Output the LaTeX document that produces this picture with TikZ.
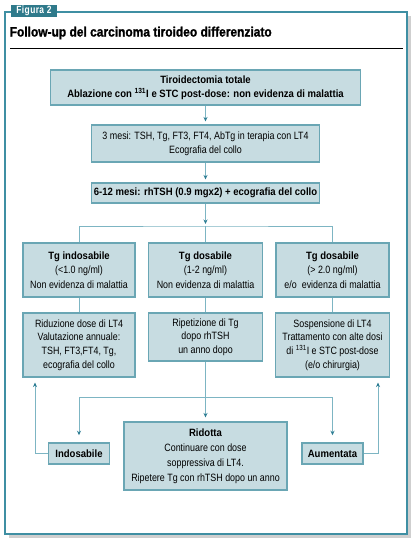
\documentclass[tikz,border=0pt]{standalone}
\usepackage{fontspec}
\setmainfont{Liberation Sans}
\newfontfamily\regf{Liberation Sans}[FakeStretch=0.84]
\newfontfamily\boldf{Liberation Sans}[FakeStretch=0.9]
\newfontfamily\titlef{Liberation Sans}[FakeStretch=0.88, BoldFeatures={FakeBold=1.3}]
\newfontfamily\labf{Liberation Sans}[FakeStretch=0.8, LetterSpace=4]
\usetikzlibrary{arrows.meta}
\definecolor{boxfill}{HTML}{C7DCE1}
\definecolor{boxline}{HTML}{6AA6B4}
\definecolor{conn}{HTML}{7DB5C3}
\definecolor{tipc}{HTML}{2E7E94}
\definecolor{framec}{HTML}{3F8FA3}
\definecolor{labelc}{HTML}{2F7A8B}
\definecolor{shadowc}{HTML}{CFCFCF}
\newcommand{\hb}[1]{{\boldf\bfseries #1}}
\begin{document}
\begin{tikzpicture}[x=1pt,y=-1pt,
  box/.style={draw=boxline, fill=boxfill, line width=1.1pt, align=center, inner sep=1pt,
    font=\regf\fontsize{10.6}{13.6}\selectfont},
  conline/.style={draw=conn, line width=1pt},
  arr/.style={conline, -{Stealth[length=4.5pt, width=4pt, color=tipc]}, shorten >=3pt}]
\useasboundingbox (0,0) rectangle (415,543);
% frame with shadow
\fill[shadowc] (9,16) rectangle (411,538);
\fill[white] (5,12) rectangle (407,534);
\draw[framec, line width=1.8pt] (5,12) rectangle (407,534);
\node[fill=labelc, text=white, minimum width=46, minimum height=12, inner sep=0pt,
  font=\labf\bfseries\fontsize{10.5}{10}\selectfont] (lab) at (34,11) {Figura 2};
\node[anchor=west, inner sep=0pt, font=\titlef\bfseries\fontsize{13.6}{13}\selectfont] (title) at (9.5,33) {Follow-up del carcinoma tiroideo differenziato};
\draw[black, line width=0.9pt] (10,48) -- (403,48);
% nodes
\node[box, minimum width=310, minimum height=35] (b1) at (205.5,87.5)
  {\hb{Tiroidectomia totale}\\\hb{Ablazione con \textsuperscript{131}I e STC post-dose: non evidenza di malattia}};
\node[box, minimum width=228, minimum height=37] (b2) at (205.5,143.5)
  {3 mesi: TSH, Tg, FT3, FT4, AbTg in terapia con LT4\\Ecografia del collo};
\node[box, minimum width=228, minimum height=20] (b3) at (205.5,193)
  {\hb{6-12 mesi: rhTSH (0.9 mgx2) + ecografia del collo}};
\node[box, minimum width=112, minimum height=54, font=\regf\fontsize{10.6}{14.6}\selectfont] (A) at (79,270)
  {\hb{Tg indosabile}\\(<1.0 ng/ml)\\Non evidenza di malattia};
\node[box, minimum width=114, minimum height=54, font=\regf\fontsize{10.6}{14.6}\selectfont] (B) at (205.5,270)
  {\hb{Tg dosabile}\\(1-2 ng/ml)\\Non evidenza di malattia};
\node[box, minimum width=113, minimum height=54, font=\regf\fontsize{10.6}{14.6}\selectfont] (C) at (332.5,270)
  {\hb{Tg dosabile}\\(> 2.0 ng/ml)\\e/o\ \ evidenza di malattia};
\node[box, minimum width=112, minimum height=64] (A2) at (79,345)
  {Riduzione dose di LT4\\Valutazione annuale:\\TSH, FT3,FT4, Tg,\\ecografia del collo};
\node[box, minimum width=114, minimum height=48] (B2) at (205.5,337)
  {Ripetizione di Tg\\dopo rhTSH\\un anno dopo};
\node[box, minimum width=114, minimum height=64] (C2) at (332.5,345)
  {Sospensione di LT4\\Trattamento con alte dosi\\di \textsuperscript{131}I e STC post-dose\\(e/o chirurgia)};
\node[box, minimum width=163, minimum height=68, font=\regf\fontsize{10.6}{15}\selectfont] (R) at (205.5,456)
  {\hb{Ridotta}\\Continuare con dose\\soppressiva di LT4.\\Ripetere Tg con rhTSH dopo un anno};
\node[box, minimum width=61, minimum height=21, line width=1.5pt] (Ind) at (79,453.5) {\hb{Indosabile}};
\node[box, minimum width=61, minimum height=21, line width=1.5pt] (Aum) at (332.5,453.5) {\hb{Aumentata}};
% coordinates
\coordinate (br1) at (205.5,226);
\coordinate (br2) at (205.5,397);
\coordinate (fbL) at (35,453.5);
\coordinate (fbR) at (378,453.5);
% connectors
\draw[arr] (b1) -- (b2);
\draw[arr] (b2) -- (b3);
\draw[arr, shorten >=2pt] (b3) -- (br1);
\draw[conline] (A.north) |- (br1) -| (C.north);
\draw[conline] (br1) -- (B);
\draw[conline] (A) -- (A2);
\draw[conline] (B) -- (B2);
\draw[conline] (C) -- (C2);
\draw[arr, shorten >=4pt] (B2) -- (R);
\draw[arr, shorten >=7pt] (br2) -| (Ind);
\draw[arr, shorten >=7pt] (br2) -| (Aum);
\draw[arr, shorten >=5pt] (Ind.west) -- (fbL) -- (fbL |- A2.south);
\draw[arr, shorten >=5pt] (Aum.east) -- (fbR) -- (fbR |- C2.south);
\end{tikzpicture}
\end{document}
